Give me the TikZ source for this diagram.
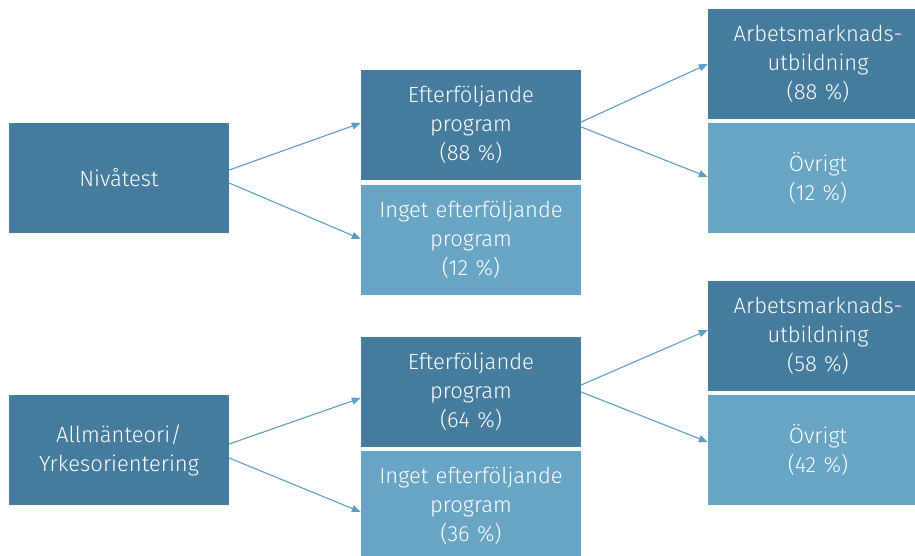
\documentclass[tikz,border=0pt]{standalone}
\usepackage{fontspec}
\setmainfont{Fira Sans}[UprightFont=* Light]
\usetikzlibrary{arrows.meta,calc}
\definecolor{darkbox}{RGB}{69,123,157}
\definecolor{lightbox}{RGB}{104,164,196}
\definecolor{arrowcol}{RGB}{95,158,196}
\tikzset{
  box/.style={rectangle,inner sep=0pt,minimum width=220pt,minimum height=110pt,
    text width=215pt,align=center,text=white,font=\fontsize{22}{29}\selectfont},
  darkb/.style={box,fill=darkbox},
  lightb/.style={box,fill=lightbox},
  arr/.style={draw=arrowcol,line width=1.1pt,-{Triangle[length=9pt,width=7pt]}}
}
\begin{document}
\begin{tikzpicture}[x=1pt,y=-1pt]
\clip (0,0) rectangle (915,555);
\fill[white] (0,0) rectangle (915,555);
% top group
\node[darkb]  (A1) at (119,178) {Nivåtest};
\node[darkb]  (B1) at (471,125) {Efterföljande\\program\\(88 \%)};
\node[lightb] (C1) at (471,240) {Inget efterföljande\\program\\(12 \%)};
\node[darkb]  (D1) at (818,64)  {Arbetsmarknads-\\utbildning\\(88 \%)};
\node[lightb] (E1) at (818,178) {Övrigt\\(12 \%)};
% bottom group
\node[darkb]  (A2) at (119,450) {Allmänteori/\\Yrkesorientering};
\node[darkb]  (B2) at (471,392) {Efterföljande\\program\\(64 \%)};
\node[lightb] (C2) at (471,506) {Inget efterföljande\\program\\(36 \%)};
\node[darkb]  (D2) at (818,336) {Arbetsmarknads-\\utbildning\\(58 \%)};
\node[lightb] (E2) at (818,450) {Övrigt\\(42 \%)};
% arrows
\draw[arr] ($(A1.east)+(0,-8)$) -- ($(B1.west)+(0,-2)$);
\draw[arr] ($(A1.east)+(0,5)$) -- ($(C1.west)+(0,-1)$);
\draw[arr] ($(B1.east)+(0,-3)$) -- ($(D1.west)+(0,0)$);
\draw[arr] ($(B1.east)+(0,2)$) -- ($(E1.west)+(0,-1)$);
\draw[arr] ($(A2.east)+(0,-6)$) -- ($(B2.west)+(0,6)$);
\draw[arr] ($(A2.east)+(0,8)$) -- ($(C2.west)+(0,6)$);
\draw[arr] ($(B2.east)+(0,-7)$) -- ($(D2.west)+(0,-6)$);
\draw[arr] ($(B2.east)+(0,0)$) -- ($(E2.west)+(0,-8)$);
\end{tikzpicture}
\end{document}
